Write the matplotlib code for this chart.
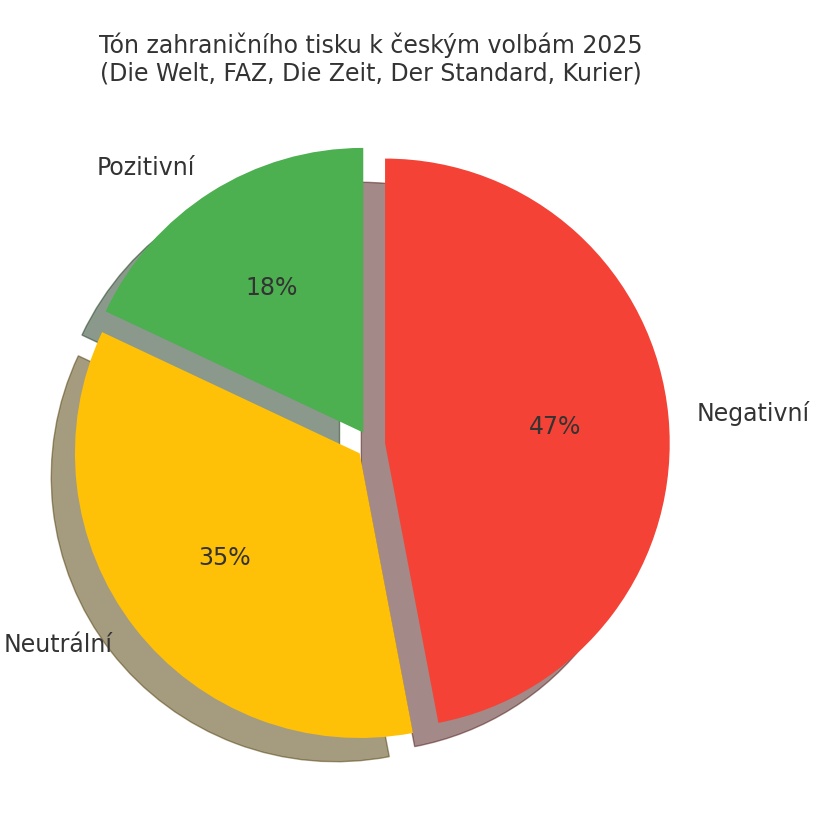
import matplotlib
matplotlib.use("Agg")
import matplotlib.pyplot as plt

labels = ["Negativní", "Neutrální", "Pozitivní"]
values = [47, 35, 18]
colors = ["#F44336", "#FFC107", "#4CAF50"]
explode = [0.05, 0.05, 0.05]
title = "Tón zahraničního tisku k českým volbám 2025\n(Die Welt, FAZ, Die Zeit, Der Standard, Kurier)"

fig = plt.figure(figsize=(8.2, 8.18), dpi=100)
ax = fig.add_axes([0.0183, 0.0215, 0.868, 0.870])
wedges, texts, autotexts = ax.pie(
    values, labels=labels, colors=colors, explode=explode,
    autopct="%1.0f%%", startangle=90, counterclock=False,
    shadow={"ox": -0.06, "oy": -0.06},
    textprops={"fontsize": 17, "color": "#333333"},
)
ax.set_title(title, fontsize=17, color="#333333")
ax.set_aspect("equal")
fig.savefig("out.png", dpi=100)
